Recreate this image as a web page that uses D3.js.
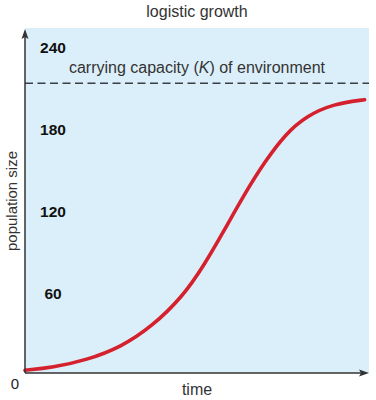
<!DOCTYPE html>
<html>
<head>
<meta charset="utf-8">
<script src="https://cdn.jsdelivr.net/npm/d3@7"></script>
<style>
  html, body { margin: 0; padding: 0; background: #fff; }
  svg { display: block; }
  text { font-family: "Liberation Sans", Arial, Helvetica, sans-serif; }
</style>
</head>
<body>
<svg id="chart" width="376" height="400"></svg>
<script>
// ---- data ----
const time = [0, 8, 18, 28, 37, 46, 52, 58, 64, 70, 76, 82, 90, 99];
const population = [2, 4, 9.5, 19, 34, 56, 78, 104, 131, 155, 175, 188, 197, 200];
const carryingCapacity = [212];
const yTicks = [60, 120, 180, 240];
const yTickLabels = ["60", "120", "180", "240"];
const titleText = ["logistic growth"];
const kLabel = ["carrying capacity (", "K", ") of environment"];

// ---- layout ----
const svg = d3.select("#chart");
const mLeft = 25, mRight = 368, mBottom = 373, mTop = 45;
const x = d3.scaleLinear().domain([0, 100]).range([mLeft, mRight]);
const y = d3.scaleLinear().domain([0, 240]).range([mBottom, mTop]);

// background panel
svg.append("rect")
  .attr("x", mLeft).attr("y", 28)
  .attr("width", 369 - mLeft).attr("height", mBottom - 28)
  .attr("fill", "#dbeffa");

// title
svg.append("text")
  .attr("x", 197).attr("y", 17)
  .attr("text-anchor", "middle")
  .attr("font-size", 16)
  .attr("fill", "#333")
  .text(titleText[0]);

// carrying capacity dashed line
svg.append("line")
  .attr("x1", mLeft).attr("x2", 369)
  .attr("y1", y(carryingCapacity[0])).attr("y2", y(carryingCapacity[0]))
  .attr("stroke", "#3a3f44").attr("stroke-width", 1.5)
  .attr("stroke-dasharray", "8,4.5");

// K label
const kt = svg.append("text")
  .attr("x", 197).attr("y", y(carryingCapacity[0]) - 10)
  .attr("text-anchor", "middle")
  .attr("font-size", 16)
  .attr("fill", "#333");
kt.append("tspan").text(kLabel[0]);
kt.append("tspan").attr("font-style", "italic").text(kLabel[1]);
kt.append("tspan").text(kLabel[2]);

// y tick labels (inside the panel) via axis
const yAxis = d3.axisLeft(y)
  .tickValues(yTicks)
  .tickFormat((d, i) => yTickLabels[i])
  .tickSize(0);
const gy = svg.append("g").attr("transform", `translate(${mLeft},0)`).call(yAxis);
gy.select(".domain").remove();
gy.selectAll("text")
  .attr("x", 28)
  .attr("dy", "0.32em")
  .attr("transform", "translate(0,3)")
  .attr("text-anchor", "middle")
  .attr("font-size", 15.5)
  .attr("font-weight", "bold")
  .attr("font-family", "Liberation Sans, Arial, sans-serif")
  .attr("fill", "#111");

// zero label
svg.append("text")
  .attr("x", 15).attr("y", 389)
  .attr("text-anchor", "middle")
  .attr("font-size", 15)
  .attr("fill", "#222")
  .text("0");

// curve
const line = d3.line()
  .x((d, i) => x(time[i]))
  .y(d => y(d))
  .curve(d3.curveBasis);
svg.append("path")
  .datum(population)
  .attr("d", line)
  .attr("fill", "none")
  .attr("stroke", "#d5202d")
  .attr("stroke-width", 3.6)
  .attr("stroke-linecap", "round");

// axes with arrows
const axisColor = "#333";
svg.append("line")
  .attr("x1", mLeft).attr("x2", mLeft)
  .attr("y1", mBottom).attr("y2", 36)
  .attr("stroke", axisColor).attr("stroke-width", 1.5);
svg.append("path")
  .attr("d", `M${mLeft},29 L${mLeft - 3.5},39 L${mLeft},37 L${mLeft + 3.5},39 Z`)
  .attr("fill", axisColor);
svg.append("line")
  .attr("x1", mLeft).attr("x2", 362)
  .attr("y1", mBottom).attr("y2", mBottom)
  .attr("stroke", axisColor).attr("stroke-width", 1.5);
svg.append("path")
  .attr("d", `M369,${mBottom} L359,${mBottom - 3.5} L361,${mBottom} L359,${mBottom + 3.5} Z`)
  .attr("fill", axisColor);

// axis titles
svg.append("text")
  .attr("x", 197).attr("y", 395)
  .attr("text-anchor", "middle")
  .attr("font-size", 16)
  .attr("fill", "#333")
  .text("time");
svg.append("text")
  .attr("transform", "translate(17,201) rotate(-90)")
  .attr("text-anchor", "middle")
  .attr("font-size", 15)
  .attr("fill", "#333")
  .text("population size");
</script>
</body>
</html>
